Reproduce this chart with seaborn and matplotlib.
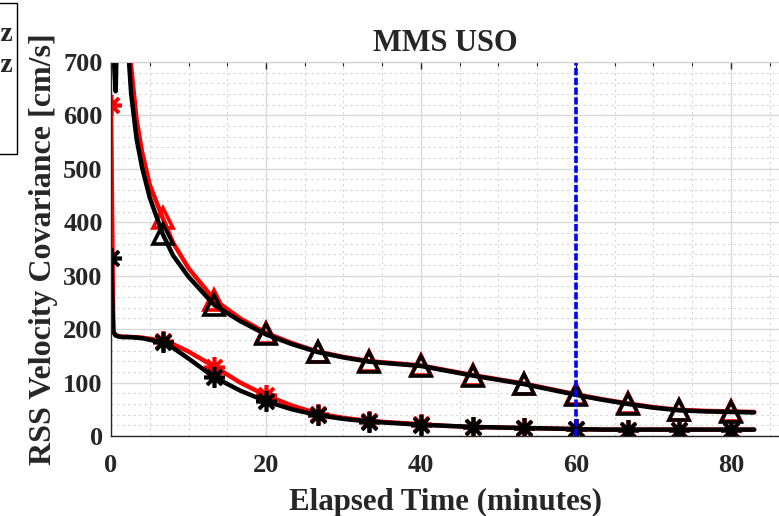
import numpy as np
import seaborn as sns
import matplotlib.pyplot as plt
from matplotlib.ticker import MultipleLocator
from matplotlib.patches import Rectangle

# data (elapsed time in minutes, covariance in cm/s)
t = [0, 0.3, 0.6, 1.0, 1.5, 2.0, 2.6, 3.3, 4.0, 5.0, 6.67, 8.0, 10.0,
     13.33, 16.67, 20.0, 23.33, 26.67, 30.0, 33.33, 36.67, 40.0, 43.33,
     46.67, 50.0, 53.33, 56.67, 60.0, 63.33, 66.67, 70.0, 73.33, 76.67,
     80.0, 83.0]

tri_red = [1000, 900, 1200, 1300, 1100, 830, 690, 592, 532, 470, 408, 362, 314,
           255, 220, 193, 174, 158, 148, 140, 136, 132, 123,
           114, 106, 98, 88, 78, 69, 61, 54, 49, 47,
           46, 45]
tri_black = [900, 720, 645, 900, 1100, 770, 640, 556, 503, 446, 378, 338, 298,
             245, 215, 190, 172, 157, 147, 139, 135, 131, 122,
             113, 105, 97, 87, 77, 68, 60, 53, 48, 46,
             45, 44]
ast_red = [620, 195, 189, 187, 186, 186, 185, 185, 184, 182, 178, 172, 158,
           130, 100, 76, 57, 42, 34, 28, 25, 22, 19,
           17, 16, 15, 14, 13, 12, 12, 12, 12, 12,
           12, 12]
ast_black = [333, 195, 188, 186, 185, 185, 185, 184, 183, 180, 175, 165, 145,
             110, 85, 65, 50, 39, 32, 27, 24, 21, 19,
             17, 16, 15, 14, 13, 12, 12, 12, 12, 12,
             12, 12]

labels = ['Case 1, 1 Hz', 'Case 2, 1 Hz', 'Case 1', 'Case 2']
ast_times = [0, 6.67, 13.33, 20.0, 26.67, 33.33, 40.0, 46.67, 53.33,
             60.0, 66.67, 73.33, 80.0]
tri_times = ast_times[1:]
cutoff = 60

sns.set_style('white')
plt.rcParams['font.family'] = ['Liberation Serif', 'DejaVu Serif']
plt.rcParams['font.weight'] = 'bold'

fig = plt.figure(figsize=(7.79, 5.16), dpi=100)
ax = fig.add_axes([0.1425, 0.155, 0.8575, 0.725])

asterisk = (8, 2, 0)
series = [
    (ast_red, 'red', asterisk, ast_times, labels[0]),
    (ast_black, 'black', asterisk, ast_times, labels[1]),
    (tri_red, 'red', '^', tri_times, labels[2]),
    (tri_black, 'black', '^', tri_times, labels[3]),
]
for vals, col, mk, mt, lab in series:
    sns.lineplot(x=t, y=vals, ax=ax, color=col, lw=3.2, marker=mk,
                 markevery=[t.index(m) for m in mt],
                 ms=15,
                 mfc='none', mec=col, mew=2.6, label=lab, sort=False)

ax.axvline(cutoff, color='blue', lw=2.6, linestyle=(0, (2, 0.7)))

ax.set_xlim(0, 86.2)
ax.set_ylim(0, 700)
ax.xaxis.set_major_locator(MultipleLocator(20))
ax.xaxis.set_minor_locator(MultipleLocator(5))
ax.yaxis.set_major_locator(MultipleLocator(100))
ax.yaxis.set_minor_locator(MultipleLocator(20))

ax.grid(which='major', color='#d9d9d9', lw=1.0, ls='-')
ax.grid(which='minor', color='#d4d4d4', lw=0.8, ls=(0, (2, 3)))
ax.set_axisbelow(True)

ax.tick_params(which='both', direction='in', top=True, right=False,
               labelsize=19, colors='#262626')
ax.tick_params(axis='x', pad=13)
ax.tick_params(axis='y', pad=6)
ax.tick_params(which='major', length=5, width=1)
ax.tick_params(which='minor', length=3, width=0.8)
for lab in ax.get_xticklabels() + ax.get_yticklabels():
    lab.set_fontweight('bold')

for side in ['left', 'bottom']:
    ax.spines[side].set_color('#262626')
    ax.spines[side].set_linewidth(1)
ax.spines['top'].set_color('#d0d0d0')
ax.spines['right'].set_visible(False)

ax.set_title('MMS USO', fontsize=22, fontweight='bold', pad=8)
ax.set_xlabel('Elapsed Time (minutes)', fontsize=22.2, fontweight='bold',
              color='#262626', labelpad=8)
ax.set_ylabel('RSS Velocity Covariance [cm/s]', fontsize=23,
              fontweight='bold', color='#262626', labelpad=4)

# legend sits mostly off the left edge of the figure, as in the reference
leg = ax.legend(loc='upper right', bbox_to_anchor=(13 / 779, 1 - 21 / 516),
                bbox_transform=fig.transFigure, borderaxespad=0,
                frameon=False, prop={'size': 20, 'weight': 'bold'},
                labelspacing=0.22, borderpad=0, handlelength=2.5)
fig.patches.append(Rectangle((-10 / 779, 1 - 154 / 516), 27 / 779, 151 / 516,
                             transform=fig.transFigure, fill=False,
                             edgecolor='black', lw=1))

fig.savefig('out.png', dpi=100)
